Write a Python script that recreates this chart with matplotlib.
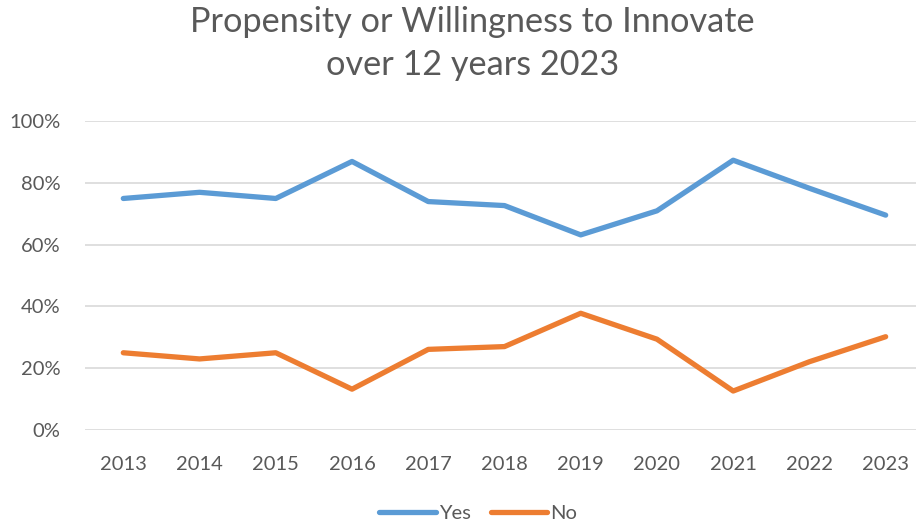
import matplotlib
matplotlib.use('Agg')
import matplotlib.pyplot as plt
from matplotlib.ticker import PercentFormatter

# data
years = ['2013', '2014', '2015', '2016', '2017', '2018', '2019', '2020', '2021', '2022', '2023']
yes = [0.75, 0.77, 0.75, 0.87, 0.74, 0.727, 0.632, 0.71, 0.874, 0.783, 0.696]
no = [0.25, 0.23, 0.25, 0.132, 0.261, 0.27, 0.378, 0.294, 0.126, 0.221, 0.302]
y_ticks = [0, 0.2, 0.4, 0.6, 0.8, 1.0]

plt.rcParams['font.family'] = ['Lato', 'DejaVu Sans']
grey = '#595959'

fig = plt.figure(figsize=(9.16, 5.23), dpi=100)
ax = fig.add_axes([0.093, 0.178, 0.9155, 0.590])

x = range(len(years))
ax.plot(x, yes, color='#5B9BD5', lw=3.8, solid_capstyle='round', solid_joinstyle='round', label='Yes', zorder=3)
ax.plot(x, no, color='#ED7D31', lw=3.8, solid_capstyle='round', solid_joinstyle='round', label='No', zorder=3)

ax.set_xlim(-0.5, len(years) - 0.5)
ax.set_ylim(0, 1)
ax.set_yticks(y_ticks)
ax.yaxis.set_major_formatter(PercentFormatter(1.0, decimals=0))
ax.set_xticks(list(x))
ax.set_xticklabels(years)
ax.grid(axis='y', color='#D9D9D9', lw=1.2)
ax.set_axisbelow(True)
for s in ax.spines.values():
    s.set_visible(False)
ax.tick_params(length=0, labelsize=14.5, colors=grey)
ax.tick_params(axis='x', pad=19)
ax.tick_params(axis='y', pad=18)

fig.text(0.516, 0.916, 'Propensity or Willingness to Innovate\nover 12 years 2023',
         ha='center', va='center', fontsize=24.7, color=grey, linespacing=1.42)

fig.legend(loc='lower center', bbox_to_anchor=(0.522, -0.032), ncol=2, frameon=False,
           fontsize=14.5, labelcolor=grey, handlelength=2.8, handletextpad=0.15,
           columnspacing=1.0)

fig.savefig('out.png', dpi=100)
